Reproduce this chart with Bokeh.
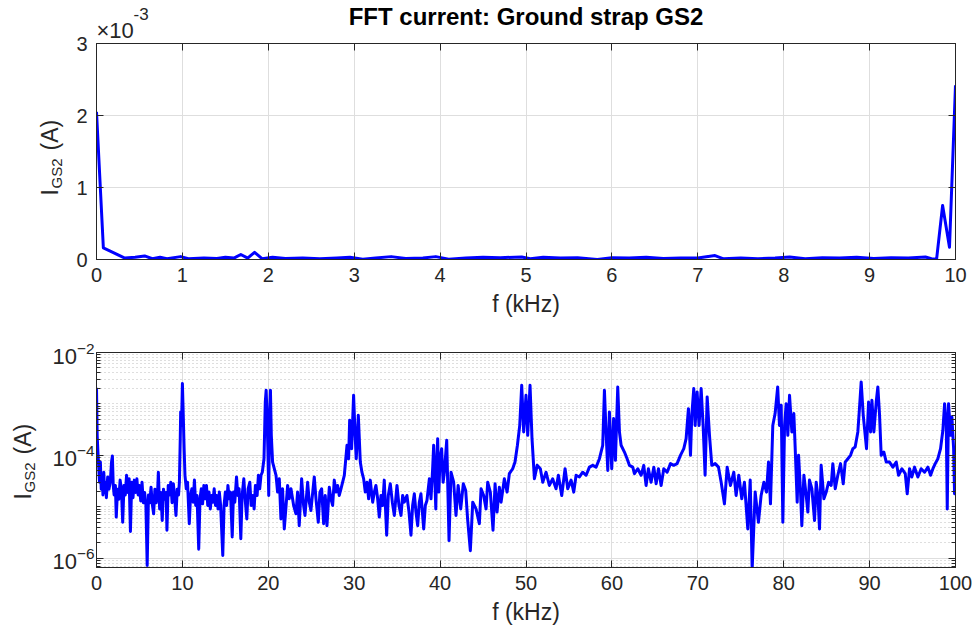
import numpy as np
from bokeh.plotting import figure
from bokeh.layouts import column, row
from bokeh.models import (Range1d, LinearAxis, LogAxis, FixedTicker, Label, Title,
                          CustomJSTickFormatter)
from bokeh.embed import file_html
from bokeh.resources import INLINE

FONT = "Liberation Sans"
AX = "#262626"
BLUE = "#0000ff"

# ---------------- data: top panel (0-10 kHz, linear) ----------------
top_freq_khz = [
    0.0, 0.08, 0.33, 0.45, 0.56, 0.65, 0.74, 0.82, 0.98, 1.07,
    1.25, 1.4, 1.5, 1.6, 1.68, 1.76, 1.84, 1.93, 2.05, 2.2,
    2.4, 2.6, 2.8, 2.95, 3.1, 3.25, 3.43, 3.6, 3.8, 3.95,
    4.1, 4.3, 4.5, 4.7, 4.95, 5.05, 5.2, 5.4, 5.6, 5.83,
    6.0, 6.2, 6.4, 6.6, 6.8, 7.0, 7.2, 7.3, 7.5, 7.7,
    7.9, 8.07, 8.25, 8.45, 8.65, 8.85, 9.05, 9.25, 9.45, 9.65,
    9.72, 9.78, 9.85, 9.93, 10.0]
top_current_a = [
    2.05e-3, 1.6e-4, 2.0e-5, 3.0e-5, 5.0e-5, 1.0e-5, 3.0e-5, 1.0e-5, 4.0e-5, 1.0e-5,
    2.0e-5, 1.5e-5, 3.0e-5, 2.0e-5, 7.0e-5, 2.0e-5, 1.0e-4, 1.0e-5, 3.0e-5, 1.5e-5,
    2.0e-5, 1.0e-5, 2.0e-5, 3.0e-5, 5.0e-6, 2.0e-5, 4.0e-5, 1.5e-5, 2.0e-5, 4.0e-5,
    5.0e-6, 2.0e-5, 3.0e-5, 2.5e-5, 3.5e-5, 1.0e-5, 3.0e-5, 2.0e-5, 2.5e-5, 0.0,
    2.5e-5, 2.0e-5, 3.0e-5, 1.5e-5, 2.0e-5, 2.0e-5, 5.5e-5, 1.0e-5, 2.0e-5, 1.0e-5,
    2.0e-5, 3.5e-5, 1.0e-5, 2.5e-5, 2.0e-5, 3.0e-5, 1.5e-5, 2.5e-5, 2.0e-5, 3.5e-5,
    1.0e-5, 5.0e-6, 7.5e-4, 1.7e-4, 2.42e-3]

# ---------------- data: bottom panel (0-100 kHz, log) ----------------
freq_khz = [
    0.0, 0.08, 0.16, 0.25, 0.35, 0.45, 0.55, 0.65, 0.75, 0.85,
    0.95, 1.05, 1.15, 1.3, 1.45, 1.6, 1.75, 1.85, 1.95, 2.05,
    2.2, 2.3, 2.45, 2.6, 2.75, 2.9, 3.05, 3.2, 3.35, 3.5,
    3.65, 3.8, 3.95, 4.1, 4.25, 4.4, 4.55, 4.7, 4.85, 5.0,
    5.15, 5.3, 5.45, 5.6, 5.75, 5.9, 6.05, 6.2, 6.35, 6.5,
    6.65, 6.8, 6.95, 7.1, 7.2, 7.35, 7.5, 7.65, 7.8, 7.95,
    8.1, 8.2, 8.35, 8.5, 8.65, 8.8, 8.95, 9.1, 9.25, 9.4,
    9.55, 9.65, 9.75, 9.8, 9.9, 10.0,
    10.1, 10.2, 10.3, 10.45, 10.6, 10.8, 10.95, 11.1, 11.25, 11.4,
    11.55, 11.7, 11.9, 12.05, 12.2, 12.35, 12.5, 12.65, 12.8, 12.95,
    13.1, 13.25, 13.4, 13.55, 13.7, 13.85, 14.0, 14.15, 14.3, 14.45,
    14.7, 14.85, 15.0, 15.15, 15.3, 15.45, 15.6, 15.8, 15.95, 16.1,
    16.3, 16.45, 16.6, 16.8, 16.95, 17.15, 17.3, 17.5, 17.65, 17.85,
    18.0, 18.2, 18.35, 18.5, 18.7, 18.85, 19.0, 19.15, 19.3, 19.5,
    19.65, 19.75, 19.85, 19.95, 20.05, 20.15, 20.25, 20.35,
    20.5, 20.9, 21.08, 21.28, 21.47, 21.66, 21.86, 22.25, 22.44, 22.64,
    22.95, 23.22, 23.41, 23.6, 23.88, 24.11, 24.27, 24.58, 24.77, 24.96,
    25.35, 25.55, 25.82, 26.01, 26.21, 26.44, 26.63, 26.83, 27.1, 27.29,
    27.49, 27.68, 27.88, 28.07, 28.26, 28.46, 28.85, 29.16, 29.35, 29.47,
    29.7, 29.93, 30.09, 30.24, 30.48, 30.71, 30.9, 31.1, 31.29, 31.49,
    31.68, 31.87, 32.15, 32.34, 32.53, 32.73, 32.92, 33.12, 33.31, 33.5,
    33.78, 33.97, 34.2, 34.44, 34.67, 34.98, 35.21, 35.45, 35.64, 35.83,
    36.14, 36.38, 36.61, 36.8, 37.0, 37.19, 37.39, 37.58, 37.77, 38.09,
    38.28, 38.47, 38.75, 38.94, 39.13, 39.25, 39.4, 39.5, 39.6, 39.72,
    39.85, 40.0, 40.18, 40.35, 40.5, 40.77, 41.04, 41.27, 41.58, 41.85,
    42.1, 42.4, 42.7, 42.98, 43.2, 43.52, 43.8, 44.18, 44.57, 44.77,
    45.07, 45.35, 45.54, 45.85, 46.16, 46.4, 46.63, 46.9, 47.1, 47.48,
    47.8, 48.06, 48.45, 48.72, 49.0, 49.27, 49.5, 49.73, 50.0, 50.2,
    50.47, 50.7, 50.98, 51.3, 51.67, 51.95, 52.33, 52.72, 53.1, 53.5,
    53.77, 54.16, 54.55, 54.86, 55.25, 55.56, 55.83, 56.22, 56.6, 57.0,
    57.38, 57.77, 58.16, 58.55, 58.93, 59.13, 59.32, 59.52, 59.71, 59.98,
    60.2, 60.41, 60.68, 60.88, 61.07, 61.46, 61.77, 62.04, 62.43, 62.62,
    63.01, 63.4, 63.71, 63.98, 64.25, 64.56, 64.88, 65.15, 65.42, 65.73,
    66.04, 66.43, 66.82, 67.2, 67.59, 67.98, 68.37, 68.64, 68.91, 69.15,
    69.3, 69.53, 69.69, 69.92, 70.15, 70.39, 70.62, 70.85, 71.09, 71.36,
    71.63, 72.02, 72.41, 72.72, 73.1, 73.42, 73.8, 74.19, 74.46, 74.77,
    75.12, 75.43, 75.82, 76.1, 76.33, 76.68, 77.06, 77.37, 77.69, 78.0,
    78.23, 78.46, 78.73, 79.0, 79.3, 79.51, 79.71, 79.9, 80.1, 80.29,
    80.48, 80.68, 80.95, 81.18, 81.34, 81.57, 81.73, 81.96, 82.11, 82.35,
    82.62, 82.81, 83.0, 83.28, 83.59, 83.78, 83.98, 84.17, 84.36, 84.68,
    84.95, 85.22, 85.53, 85.72, 86.0, 86.3, 86.62, 86.93, 87.16, 87.47,
    87.78, 88.05, 88.32, 88.63, 88.83, 89.02, 89.26, 89.49, 89.64, 89.88,
    90.11, 90.27, 90.5, 90.77, 90.96, 91.16, 91.35, 91.66, 91.94, 92.32,
    92.71, 93.1, 93.37, 93.76, 94.15, 94.38, 94.65, 94.92, 95.23, 95.62,
    96.0, 96.4, 96.79, 97.1, 97.37, 97.64, 97.95, 98.26, 98.53, 98.73,
    98.92, 99.04, 99.19, 99.43, 99.58, 99.78, 99.89, 100.0]
current_a = [
    2.05e-3, 2.4e-4, 1.2e-4, 6.4e-5, 3.0e-5, 7.4e-5, 2.2e-5, 4.1e-5, 1.7e-5, 4.7e-5,
    1.9e-5, 3.0e-5, 1.5e-5, 3.8e-5, 2.2e-5, 3.0e-5, 7.4e-5, 9.7e-5, 2.6e-5, 1.7e-5,
    2.6e-5, 6.3e-6, 2.2e-5, 1.4e-5, 3.3e-5, 2.2e-5, 5.0e-6, 2.6e-5, 1.7e-5, 4.1e-5,
    1.9e-5, 3.5e-5, 3.3e-6, 3.0e-5, 1.5e-5, 3.3e-5, 1.9e-5, 3.5e-5, 1.7e-5, 2.6e-5,
    1.3e-5, 3.0e-5, 1.2e-5, 1.9e-5, 1.1e-5, 7.2e-7, 1.7e-5, 1.2e-5, 2.4e-5, 1.1e-5,
    7.3e-6, 2.2e-5, 1.2e-5, 1.7e-5, 4.7e-5, 9.1e-6, 1.9e-5, 5.4e-6, 2.2e-5, 1.4e-5,
    1.9e-5, 3.5e-6, 2.6e-5, 1.7e-5, 3.0e-5, 1.2e-5, 2.8e-5, 1.5e-5, 6.8e-6, 2.2e-5,
    1.7e-5, 3.0e-5, 2.1e-4, 7.0e-4, 3.8e-4, 2.5e-3,
    6.0e-4, 1.35e-4, 4.1e-5, 2.24e-5, 3.0e-5, 4.7e-6, 1.66e-5, 2.24e-5, 1.23e-5, 3.3e-5,
    1.06e-5, 1.66e-5, 1.5e-6, 1.43e-5, 2.24e-5, 1.14e-5, 2.6e-5, 1.43e-5, 2.6e-5, 1.06e-5,
    1.93e-5, 9.1e-6, 1.66e-5, 1.23e-5, 2.24e-5, 1.06e-5, 1.66e-5, 9.1e-6, 1.93e-5, 1.06e-5,
    1.13e-6, 1.06e-5, 1.93e-5, 1.06e-5, 2.6e-5, 1.43e-5, 1.93e-5, 2.6e-6, 1.93e-5, 1.23e-5,
    3.8e-5, 1.66e-5, 2.24e-5, 2.4e-6, 1.66e-5, 3.5e-5, 1.43e-5, 5.8e-6, 2.24e-5, 3.0e-5,
    1.06e-5, 1.66e-5, 9.1e-6, 2.6e-5, 1.66e-5, 4.1e-5, 2.24e-5, 4.1e-5, 4.7e-5, 8.6e-5,
    1.1e-3, 1.85e-3, 6.0e-4, 1.35e-4, 1.66e-5, 6.0e-4, 1.85e-3, 2.45e-4,
    7.4e-5, 4.1e-5, 1.93e-5, 3.5e-5, 5.8e-6, 2.24e-5, 3.7e-6, 2.6e-5, 1.43e-5, 2.24e-5,
    1.06e-5, 7.3e-6, 1.93e-5, 4.3e-6, 3.5e-5, 1.06e-5, 6.8e-6, 3.0e-5, 1.23e-5, 8.5e-6,
    3.8e-5, 1.43e-5, 5.0e-6, 1.93e-5, 2.24e-5, 4.7e-6, 1.66e-5, 4.3e-6, 2.4e-5, 1.43e-5,
    1.06e-5, 3.3e-5, 1.93e-5, 2.6e-5, 1.66e-5, 2.24e-5, 4.1e-5, 1.57e-4, 8.6e-5, 4.8e-4,
    1.35e-4, 1.47e-3, 2.85e-4, 8.6e-5, 6.0e-4, 7.4e-5, 4.7e-5, 3.5e-5, 1.93e-5, 3.0e-5,
    1.43e-5, 3.3e-5, 1.23e-5, 1.93e-5, 2.6e-5, 1.43e-5, 6.3e-6, 1.66e-5, 1.06e-5, 3.3e-5,
    2.8e-6, 1.66e-5, 2.8e-5, 1.23e-5, 6.8e-6, 2.6e-5, 1.06e-5, 6.8e-6, 1.66e-5, 1.23e-5,
    1.66e-5, 7.9e-6, 2.8e-6, 1.06e-5, 1.79e-5, 7.9e-6, 4.3e-6, 1.23e-5, 1.79e-5, 3.7e-6,
    1.06e-5, 1.33e-5, 3.5e-5, 1.43e-5, 5.5e-5, 1.57e-4, 3.0e-5, 9.1e-6, 6.4e-5, 2.11e-4,
    1.93e-5, 8.6e-5, 1.35e-4, 3.0e-5, 4.7e-5, 1.96e-4, 2.2e-6, 4.7e-5, 3.0e-5, 6.8e-6,
    2.6e-5, 9.1e-6, 2.8e-5, 2.08e-5, 5.8e-6, 1.4e-6, 1.23e-5, 9.1e-6, 4.7e-6, 2.24e-5,
    1.66e-5, 9.1e-6, 3.0e-5, 1.93e-5, 3.5e-6, 2.8e-5, 7.9e-6, 2.4e-5, 1.23e-5, 3.5e-5,
    1.93e-5, 4.4e-5, 5.5e-5, 7.4e-5, 1.57e-4, 3.8e-4, 2.31e-3, 2.85e-4, 1.47e-3, 2.45e-4,
    2.31e-3, 2.11e-4, 3.5e-5, 6.4e-5, 5.5e-5, 3.0e-5, 4.7e-5, 2.6e-5, 3.5e-5, 2.24e-5,
    4.1e-5, 1.66e-5, 5.5e-5, 2.24e-5, 3.3e-5, 1.93e-5, 4.1e-5, 3.8e-5, 4.7e-5, 4.1e-5,
    5.9e-5, 6.4e-5, 5.9e-5, 8.6e-5, 1.57e-4, 1.85e-3, 2.85e-4, 5.1e-5, 7.0e-4, 5.5e-5,
    5.2e-4, 8.0e-5, 2.14e-3, 2.85e-4, 1.57e-4, 1.16e-4, 8.6e-5, 6.4e-5, 5.9e-5, 4.4e-5,
    5.5e-5, 4.1e-5, 6.4e-5, 2.6e-5, 5.5e-5, 3.0e-5, 5.9e-5, 2.8e-5, 5.5e-5, 2.6e-5,
    5.5e-5, 4.7e-5, 6.9e-5, 6.4e-5, 6.9e-5, 1.0e-4, 1.35e-4, 2.11e-4, 8.1e-4, 1.0e-4,
    6.0e-4, 1.99e-3, 3.8e-4, 1.71e-3, 3.8e-4, 1.99e-3, 3.8e-4, 4.1e-5, 1.37e-3, 2.45e-4,
    6.4e-5, 6.9e-5, 5.9e-5, 3.0e-5, 1.14e-5, 5.9e-5, 2.6e-5, 4.7e-5, 1.66e-5, 4.1e-5,
    1.43e-5, 3.0e-5, 3.7e-6, 3.3e-5, 6.2e-7, 1.93e-5, 5.0e-6, 1.66e-5, 3.0e-5, 1.93e-5,
    7.4e-5, 1.14e-5, 3.8e-4, 6.5e-4, 2.14e-3, 3.8e-4, 9.4e-4, 5.0e-6, 3.8e-4, 1.01e-3,
    2.45e-4, 1.47e-3, 2.85e-4, 6.5e-4, 1.35e-4, 1.23e-5, 1.0e-4, 1.93e-5, 4.3e-6, 4.1e-5,
    1.66e-5, 7.9e-6, 3.3e-5, 2.24e-5, 5.4e-6, 3.0e-5, 1.66e-5, 3.7e-6, 6.4e-5, 1.43e-5,
    1.93e-5, 3.0e-5, 2.6e-5, 6.9e-5, 2.24e-5, 4.1e-5, 6.9e-5, 2.8e-5, 7.4e-5, 8.6e-5,
    1.0e-4, 1.35e-4, 1.45e-4, 2.85e-4, 8.7e-4, 2.68e-3, 6.0e-4, 2.45e-4, 1.35e-4, 1.09e-3,
    2.85e-4, 1.18e-3, 2.85e-4, 1.09e-3, 2.14e-3, 6.0e-4, 1.0e-4, 1.16e-4, 7.4e-5, 7.4e-5,
    5.9e-5, 7.4e-5, 4.1e-5, 5.5e-5, 4.4e-5, 1.79e-5, 5.5e-5, 3.8e-5, 5.9e-5, 3.8e-5,
    5.5e-5, 4.7e-5, 5.9e-5, 4.1e-5, 5.5e-5, 6.9e-5, 8.6e-5, 1.35e-4, 3.07e-4, 1.01e-3,
    4.5e-4, 9.1e-6, 1.01e-3, 2.45e-4, 5.6e-4, 1.35e-4, 1.79e-5, 1.25e-4]

assert len(top_freq_khz) == len(top_current_a)
assert len(freq_khz) == len(current_a), (len(freq_khz), len(current_a))

# tick definitions
top_xticks = list(range(0, 11))
top_yticks = [0.0, 1e-3, 2e-3, 3e-3]
bot_xticks = list(range(0, 101, 10))
bot_yticks = [1e-6, 1e-4, 1e-2]
bot_yminor = [k * 10.0 ** n for n in range(-7, -2) for k in range(1, 10)]

TITLE = "FFT current: Ground strap GS2"
XLABEL = "f (kHz)"
YLABEL_MAIN, YLABEL_SUB, YLABEL_UNIT = "I", "GS2", "(A)"

# page layout (pixels)
ROW1_H = 330
ROW2_H = 298
AUX1_W = 70
AUX2_W = 44
FRAME1 = (43, 259)     # page y of top panel frame (top, bottom)
FRAME2 = (352, 567)    # page y of bottom panel frame


def blank_formatter():
    return CustomJSTickFormatter(code="return '';")


def style_axis(ax, show_labels=True):
    ax.axis_line_color = AX
    ax.axis_line_width = 1
    ax.major_tick_line_color = AX
    ax.minor_tick_line_color = AX
    ax.major_tick_in = 7
    ax.major_tick_out = 0
    ax.minor_tick_in = 4
    ax.minor_tick_out = 0
    ax.major_label_text_font = FONT
    ax.major_label_text_color = AX
    ax.major_label_text_font_size = "20px"
    if not show_labels:
        ax.formatter = blank_formatter()
        ax.major_label_standoff = 0
        ax.major_label_text_font_size = "1px"
    ax.axis_label_text_font = FONT
    ax.axis_label_text_font_style = "normal"
    ax.axis_label_text_font_size = "23px"
    ax.axis_label_text_color = AX


def text_fig(w, h, frame):
    # y range in page pixels of the (row-aligned) frame
    f = figure(width=w, height=h, x_range=Range1d(0, w), y_range=Range1d(frame[1], frame[0]),
               output_backend="svg", toolbar_location=None, title=None, min_border=0,
               x_axis_location=None, y_axis_location=None)
    f.outline_line_color = None
    f.background_fill_color = "white"
    f.border_fill_color = "white"
    f.grid.visible = False
    return f


def put(f, x, y, text, size, angle=0.0):
    # x is the vertical centre line of the rotated text
    f.add_layout(Label(x=x, y=y, text=text, angle=angle, text_font=FONT,
                       text_font_size=size, text_color=AX,
                       text_align="left", text_baseline="middle"))


# ================= top panel =================
p1 = figure(width=976 - AUX1_W, height=ROW1_H, x_range=Range1d(0, 10), y_range=Range1d(0, 3e-3),
            output_backend="svg", toolbar_location=None, title=None,
            min_border_left=96 - AUX1_W, min_border_right=21, min_border_top=FRAME1[0],
            min_border_bottom=ROW1_H - FRAME1[1])
p1.background_fill_color = "white"
p1.border_fill_color = "white"
p1.outline_line_color = AX

tx1 = FixedTicker(ticks=top_xticks, minor_ticks=[])
ty1 = FixedTicker(ticks=top_yticks, minor_ticks=[])
p1.xaxis[0].ticker = tx1
p1.yaxis[0].ticker = ty1
p1.xgrid[0].ticker = tx1
p1.ygrid[0].ticker = ty1
style_axis(p1.xaxis[0])
style_axis(p1.yaxis[0])
p1.yaxis[0].formatter = CustomJSTickFormatter(code="return (tick*1000).toFixed(0);")
p1.xaxis[0].axis_label = XLABEL
p1.xaxis[0].major_label_standoff = 8
p1.xaxis[0].axis_label_standoff = 6
p1.yaxis[0].major_label_standoff = 9

ax_top = LinearAxis(ticker=tx1)
style_axis(ax_top, show_labels=False)
p1.add_layout(ax_top, "above")
ax_right = LinearAxis(ticker=ty1)
style_axis(ax_right, show_labels=False)
p1.add_layout(ax_right, "right")

for g in (p1.xgrid[0], p1.ygrid[0]):
    g.grid_line_color = "#dedede"
    g.grid_line_width = 1

# multiplier "x10^-3" and the title, stacked in the panel above the frame
p1.add_layout(Title(text="\u00d710", align="left", vertical_align="top", offset=0,
                    standoff=-4.5, text_font=FONT, text_font_size="22px",
                    text_font_style="normal", text_color=AX), "above")
p1.add_layout(Title(text="-3", align="left", vertical_align="top", offset=37,
                    standoff=-25, text_font=FONT, text_font_size="17px",
                    text_font_style="normal", text_color=AX), "above")
p1.add_layout(Title(text=TITLE, align="center", vertical_align="top", offset=2,
                    standoff=-23, text_font=FONT, text_font_size="24px",
                    text_font_style="bold", text_color="black"), "above")

p1.line(top_freq_khz, top_current_a, line_color=BLUE, line_width=3, line_join="round")

aux1 = text_fig(AUX1_W, ROW1_H, FRAME1)
put(aux1, 49, 195, YLABEL_MAIN, "23px", angle=np.pi / 2)
put(aux1, 56, 188, YLABEL_SUB, "15px", angle=np.pi / 2)
put(aux1, 49, 150, YLABEL_UNIT, "23px", angle=np.pi / 2)

# ================= bottom panel =================
p2 = figure(width=976 - AUX2_W, height=ROW2_H, x_range=Range1d(0, 100),
            y_range=Range1d(6.6e-7, 1e-2), y_axis_type="log",
            output_backend="svg", toolbar_location=None, title=None,
            min_border_left=96 - AUX2_W, min_border_right=21,
            min_border_top=FRAME2[0] - ROW1_H, min_border_bottom=ROW1_H + ROW2_H - FRAME2[1])
p2.background_fill_color = "white"
p2.border_fill_color = "white"
p2.outline_line_color = AX

tx2 = FixedTicker(ticks=bot_xticks, minor_ticks=[])
ty2 = FixedTicker(ticks=bot_yticks, minor_ticks=bot_yminor)
p2.xaxis[0].ticker = tx2
p2.yaxis[0].ticker = ty2
p2.xgrid[0].ticker = tx2
p2.ygrid[0].ticker = ty2
style_axis(p2.xaxis[0])
style_axis(p2.yaxis[0])
p2.yaxis[0].major_label_text_font_size = "22px"
p2.yaxis[0].major_label_standoff = 2
p2.xaxis[0].axis_label = XLABEL
p2.xaxis[0].major_label_standoff = 8
p2.xaxis[0].axis_label_standoff = 6

ax_top2 = LinearAxis(ticker=tx2)
style_axis(ax_top2, show_labels=False)
p2.add_layout(ax_top2, "above")
ax_right2 = LogAxis(ticker=ty2)
style_axis(ax_right2, show_labels=False)
p2.add_layout(ax_right2, "right")

p2.xgrid[0].grid_line_color = "#dedede"
p2.ygrid[0].grid_line_color = "#dedede"
p2.ygrid[0].minor_grid_line_color = "#bcbcbc"
p2.ygrid[0].minor_grid_line_dash = "1 3"
p2.ygrid[0].minor_grid_line_width = 1

p2.line(freq_khz, current_a, line_color=BLUE, line_width=3, line_join="round")

aux2 = text_fig(AUX2_W, ROW2_H, FRAME2)
put(aux2, 22, 499, YLABEL_MAIN, "23px", angle=np.pi / 2)
put(aux2, 29, 492, YLABEL_SUB, "15px", angle=np.pi / 2)
put(aux2, 22, 454, YLABEL_UNIT, "23px", angle=np.pi / 2)

layout = column(row(aux1, p1, spacing=0), row(aux2, p2, spacing=0), spacing=0)
open("out.html", "w").write(file_html(layout, INLINE))
